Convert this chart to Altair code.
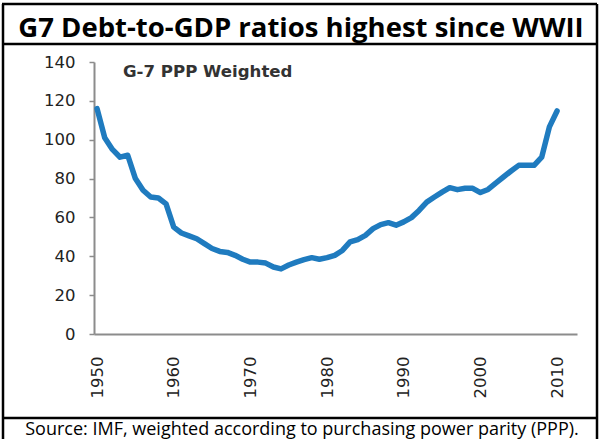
import altair as alt
import pandas as pd

title_text = "G7 Debt-to-GDP ratios highest since WWII"
source_text = "Source: IMF, weighted according to purchasing power parity (PPP)."
series_label = "G-7 PPP Weighted"

years = list(range(1950, 2011))
debt = [116, 101, 95, 91, 92, 80, 74, 70.5, 70, 67,
        55, 52, 50.5, 49, 46.5, 44, 42.5, 42, 40.5, 38.5,
        37, 37, 36.5, 34.5, 33.5, 35.5, 37, 38.3, 39.3, 38.5,
        39.3, 40.5, 43, 47.4, 48.6, 50.8, 54.2, 56.3, 57.3, 56,
        57.7, 59.9, 63.6, 67.9, 70.5, 73, 75.3, 74.3, 75, 75,
        72.8, 74.4, 77.7, 80.8, 83.9, 86.8, 86.8, 86.8, 91, 106.6, 114.8]
x_ticks = [1950, 1960, 1970, 1980, 1990, 2000, 2010]
y_ticks = [0, 20, 40, 60, 80, 100, 120, 140]

df = pd.DataFrame({"year": years, "debt": debt})

W, H = 483, 272
PL, PT = 94, 62

line = alt.Chart(df).mark_line(
    color="#1F7BBF", strokeWidth=5.5, strokeCap="round", strokeJoin="round"
).encode(
    x=alt.X("year:Q", scale=alt.Scale(domain=[1949.6, 2012.6], nice=False, zero=False),
            axis=alt.Axis(values=x_ticks, format="d", labelAngle=270, labelAlign="right",
                          labelBaseline="middle", ticks=False, tickSize=0, labelPadding=22,
                          labelFont="DejaVu Sans", labelFontSize=16.5, labelColor="#222222",
                          domainColor="#8c8c8c", domainWidth=2, grid=False, title=None)),
    y=alt.Y("debt:Q", scale=alt.Scale(domain=[0, 140], nice=False),
            axis=alt.Axis(values=y_ticks, tickSize=5, tickColor="#8c8c8c", tickWidth=1.5,
                          labelPadding=14, labelFont="DejaVu Sans", labelFontSize=16.5,
                          labelColor="#222222", domainColor="#8c8c8c", domainWidth=2,
                          grid=False, title=None)),
)

one = pd.DataFrame({"t": [0]})

def hrule(y):
    return alt.Chart(one).mark_rule(color="black", strokeWidth=2.5).encode(
        x=alt.value(2 - PL), x2=alt.value(597 - PL), y=alt.value(y - PT))

def vrule(x):
    return alt.Chart(one).mark_rule(color="black", strokeWidth=2.5).encode(
        x=alt.value(x - PL), y=alt.value(4 - PT), y2=alt.value(439 - PT))

title = alt.Chart(pd.DataFrame({"t": [title_text]})).mark_text(
    font="Open Sans", fontSize=27.5, fontWeight="bold", color="black", align="center",
    baseline="alphabetic"
).encode(x=alt.value(301 - PL), y=alt.value(37 - PT), text="t:N")

source = alt.Chart(pd.DataFrame({"t": [source_text]})).mark_text(
    font="Open Sans", fontSize=18, color="black", align="center", baseline="alphabetic"
).encode(x=alt.value(302 - PL), y=alt.value(435 - PT), text="t:N")

label = alt.Chart(pd.DataFrame({"t": [series_label]})).mark_text(
    font="DejaVu Sans", fontSize=16.6, fontWeight="bold", color="#333333", align="left",
    baseline="alphabetic"
).encode(x=alt.value(123 - PL), y=alt.value(77 - PT), text="t:N")

chart = alt.layer(
    line, hrule(4), hrule(44), hrule(418), vrule(3), vrule(597), title, source, label
).properties(
    width=W, height=H,
    autosize=alt.AutoSizeParams(type="none"),
    padding={"left": PL, "top": PT, "right": 599 - PL - W, "bottom": 439 - PT - H},
    background="white",
).configure_view(stroke=None)

chart.save("out.html", embed_options={"renderer": "svg", "actions": False})
